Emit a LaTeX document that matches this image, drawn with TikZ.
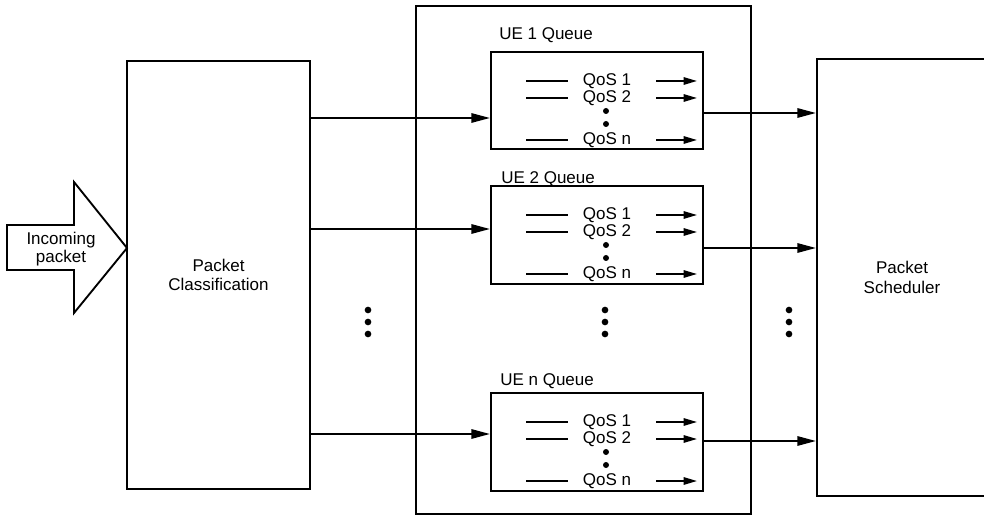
\documentclass[tikz,border=0pt]{standalone}
\usepackage{fontspec}
\setmainfont{Liberation Sans}
\usetikzlibrary{arrows.meta,calc}
\begin{document}
\begin{tikzpicture}[x=0.75pt,y=-0.75pt,
  every node/.style={font=\fontsize{12.75}{14.5}\selectfont},
  box/.style={draw,line width=1.5pt,inner sep=0pt,align=center},
  lbl/.style={inner sep=0pt},
  arr/.style={line width=1.5pt,-{Triangle[length=14pt,width=7pt]}},
  sarr/.style={line width=1.3pt,-{Triangle[length=10pt,width=5.5pt]}},
  qline/.style={line width=1.3pt},
  dotn/.style={circle,fill,inner sep=0pt,minimum size=5pt},
  sdot/.style={circle,fill,inner sep=0pt,minimum size=4.5pt}]
\useasboundingbox (0,0) rectangle (984,516);
\clip (0,0) rectangle (984,516);

% incoming block arrow
\draw[line width=1.4pt] (7,225) -- (74,225) -- (74,182) -- (127,248) -- (74,313) -- (74,270) -- (7,270) -- cycle;
\node[lbl,align=center,font=\fontsize{12.75}{13.5}\selectfont] (inc) at (61,249) {Incoming\\packet};

% main boxes
\node[box,minimum width=137.25pt,minimum height=321pt] (cls) at (218.5,275) {Packet\\Classification};
\node[box,minimum width=251.25pt,minimum height=381pt] (mid) at (583.5,260) {};
\node[box,minimum width=127.5pt,minimum height=327.75pt] (sch) at (902,277.5) {Packet\\Scheduler};

% queue boxes
\node[box,minimum width=159pt,minimum height=72.75pt] (ue1) at (597,100.5) {};
\node[box,minimum width=159pt,minimum height=73.5pt] (ue2) at (597,235) {};
\node[box,minimum width=159pt,minimum height=73.5pt] (uen) at (597,442) {};

\node[lbl,anchor=west] (ue1l) at (499,35) {UE 1 Queue};
\node[lbl,anchor=west] (ue2l) at (501,179) {UE 2 Queue};
\node[lbl,anchor=west] (uenl) at (500,381) {UE n Queue};

\foreach \n/\t in {ue1/52,ue2/186,uen/393}{
  \node[lbl] (\n-q1) at (607,\t+29) {QoS 1};
  \node[lbl] (\n-q2) at (607,\t+46) {QoS 2};
  \node[lbl] (\n-qn) at (607,\t+88) {QoS n};
  \node[sdot] (\n-d1) at (606,\t+59) {};
  \node[sdot] (\n-d2) at (606,\t+72) {};
  \foreach \k/\o in {1/29,2/46,n/88}{
    \coordinate (\n-a\k) at (526,\t+\o);
    \coordinate (\n-b\k) at (568,\t+\o);
    \coordinate (\n-c\k) at (656,\t+\o);
    \coordinate (\n-e\k) at (697,\t+\o);
    \draw[qline] (\n-a\k) -- (\n-b\k);
    \draw[sarr] (\n-c\k) -- (\n-e\k);
  }
}

% input arrows
\coordinate (in1) at (400,118);
\coordinate (in2) at (400,229);
\coordinate (inn) at (400,434);
\draw[arr] (cls.east |- in1) -- (ue1.west |- in1);
\draw[arr] (cls.east |- in2) -- (ue2.west |- in2);
\draw[arr] (cls.east |- inn) -- (uen.west |- inn);

% output arrows
\coordinate (out1) at (760,113);
\coordinate (out2) at (760,248);
\coordinate (outn) at (760,441);
\draw[arr] (ue1.east |- out1) -- (sch.west |- out1);
\draw[arr] (ue2.east |- out2) -- (sch.west |- out2);
\draw[arr] (uen.east |- outn) -- (sch.west |- outn);

% vertical ellipses
\foreach \x/\m in {368/l,605/m,789/r}{
  \node[dotn] (v\m1) at (\x,310) {};
  \node[dotn] (v\m2) at (\x,322) {};
  \node[dotn] (v\m3) at (\x,334) {};
}
\end{tikzpicture}
\end{document}
